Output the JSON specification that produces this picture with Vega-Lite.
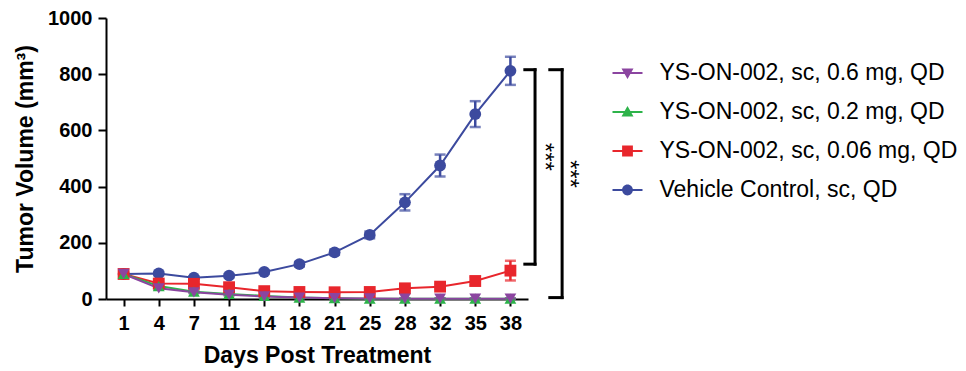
{
  "$schema": "https://vega.github.io/schema/vega-lite/v6.json",
  "autosize": {"type": "none"},
  "padding": {"left": 106, "top": 18, "right": 438, "bottom": 72},
  "width": 422,
  "height": 281,
  "config": {
    "font": "Liberation Sans",
    "view": {"stroke": null},
    "axis": {
      "domainColor": "black", "tickColor": "black", "labelColor": "black", "titleColor": "black",
      "domainWidth": 2, "tickWidth": 2, "grid": false,
      "labelFontWeight": "bold", "labelFontSize": 20,
      "titleFontWeight": "bold", "titleFontSize": 23
    }
  },
  "datasets": {
    "tumor": [
      {"day": 1, "series": "Vehicle Control, sc, QD", "v": 89, "err": 5},
      {"day": 4, "series": "Vehicle Control, sc, QD", "v": 91, "err": 6},
      {"day": 7, "series": "Vehicle Control, sc, QD", "v": 76, "err": 5},
      {"day": 11, "series": "Vehicle Control, sc, QD", "v": 83, "err": 6},
      {"day": 14, "series": "Vehicle Control, sc, QD", "v": 96, "err": 7},
      {"day": 18, "series": "Vehicle Control, sc, QD", "v": 124, "err": 8},
      {"day": 21, "series": "Vehicle Control, sc, QD", "v": 166, "err": 9},
      {"day": 25, "series": "Vehicle Control, sc, QD", "v": 228, "err": 12},
      {"day": 28, "series": "Vehicle Control, sc, QD", "v": 344, "err": 29},
      {"day": 32, "series": "Vehicle Control, sc, QD", "v": 475, "err": 39},
      {"day": 35, "series": "Vehicle Control, sc, QD", "v": 658, "err": 46},
      {"day": 38, "series": "Vehicle Control, sc, QD", "v": 812, "err": 50},
      {"day": 1, "series": "YS-ON-002, sc, 0.06 mg, QD", "v": 89, "err": 4},
      {"day": 4, "series": "YS-ON-002, sc, 0.06 mg, QD", "v": 55, "err": 5},
      {"day": 7, "series": "YS-ON-002, sc, 0.06 mg, QD", "v": 54, "err": 5},
      {"day": 11, "series": "YS-ON-002, sc, 0.06 mg, QD", "v": 42, "err": 5},
      {"day": 14, "series": "YS-ON-002, sc, 0.06 mg, QD", "v": 28, "err": 4},
      {"day": 18, "series": "YS-ON-002, sc, 0.06 mg, QD", "v": 25, "err": 4},
      {"day": 21, "series": "YS-ON-002, sc, 0.06 mg, QD", "v": 24, "err": 4},
      {"day": 25, "series": "YS-ON-002, sc, 0.06 mg, QD", "v": 25, "err": 5},
      {"day": 28, "series": "YS-ON-002, sc, 0.06 mg, QD", "v": 38, "err": 7},
      {"day": 32, "series": "YS-ON-002, sc, 0.06 mg, QD", "v": 44, "err": 8},
      {"day": 35, "series": "YS-ON-002, sc, 0.06 mg, QD", "v": 64, "err": 15},
      {"day": 38, "series": "YS-ON-002, sc, 0.06 mg, QD", "v": 101, "err": 35},
      {"day": 1, "series": "YS-ON-002, sc, 0.2 mg, QD", "v": 89, "err": 4},
      {"day": 4, "series": "YS-ON-002, sc, 0.2 mg, QD", "v": 46, "err": 4},
      {"day": 7, "series": "YS-ON-002, sc, 0.2 mg, QD", "v": 26, "err": 3},
      {"day": 11, "series": "YS-ON-002, sc, 0.2 mg, QD", "v": 18, "err": 3},
      {"day": 14, "series": "YS-ON-002, sc, 0.2 mg, QD", "v": 11, "err": 2},
      {"day": 18, "series": "YS-ON-002, sc, 0.2 mg, QD", "v": 5, "err": 2},
      {"day": 21, "series": "YS-ON-002, sc, 0.2 mg, QD", "v": 3, "err": 1},
      {"day": 25, "series": "YS-ON-002, sc, 0.2 mg, QD", "v": 1, "err": 1},
      {"day": 28, "series": "YS-ON-002, sc, 0.2 mg, QD", "v": 1, "err": 0},
      {"day": 32, "series": "YS-ON-002, sc, 0.2 mg, QD", "v": 1, "err": 0},
      {"day": 35, "series": "YS-ON-002, sc, 0.2 mg, QD", "v": 1, "err": 0},
      {"day": 38, "series": "YS-ON-002, sc, 0.2 mg, QD", "v": 1, "err": 0},
      {"day": 1, "series": "YS-ON-002, sc, 0.6 mg, QD", "v": 89, "err": 4},
      {"day": 4, "series": "YS-ON-002, sc, 0.6 mg, QD", "v": 38, "err": 4},
      {"day": 7, "series": "YS-ON-002, sc, 0.6 mg, QD", "v": 24, "err": 3},
      {"day": 11, "series": "YS-ON-002, sc, 0.6 mg, QD", "v": 15, "err": 3},
      {"day": 14, "series": "YS-ON-002, sc, 0.6 mg, QD", "v": 9, "err": 2},
      {"day": 18, "series": "YS-ON-002, sc, 0.6 mg, QD", "v": 5, "err": 2},
      {"day": 21, "series": "YS-ON-002, sc, 0.6 mg, QD", "v": 3, "err": 1},
      {"day": 25, "series": "YS-ON-002, sc, 0.6 mg, QD", "v": 2, "err": 1},
      {"day": 28, "series": "YS-ON-002, sc, 0.6 mg, QD", "v": 1, "err": 0},
      {"day": 32, "series": "YS-ON-002, sc, 0.6 mg, QD", "v": 1, "err": 0},
      {"day": 35, "series": "YS-ON-002, sc, 0.6 mg, QD", "v": 1, "err": 0},
      {"day": 38, "series": "YS-ON-002, sc, 0.6 mg, QD", "v": 1, "err": 0}
    ],
    "brackets": [
      {"a": 11.91, "a2": 12.2, "b": 816, "b2": 816},
      {"a": 12.2, "a2": 12.2, "b": 816, "b2": 124},
      {"a": 11.91, "a2": 12.2, "b": 124, "b2": 124},
      {"a": 12.62, "a2": 12.97, "b": 816, "b2": 816},
      {"a": 12.97, "a2": 12.97, "b": 816, "b2": 5},
      {"a": 12.62, "a2": 12.97, "b": 5, "b2": 5}
    ],
    "stars": [
      {"a": 12.45, "b": 506, "t": "***"},
      {"a": 13.16, "b": 445, "t": "***"}
    ]
  },
  "layer": [
    {
      "data": {"name": "tumor"},
      "encoding": {
        "x": {"field": "day", "type": "ordinal", "scale": {"type": "point", "padding": 0.5},
              "axis": {"title": "Days Post Treatment", "labelAngle": 0, "tickSize": 7, "labelPadding": 7, "titlePadding": 11}},
        "y": {"field": "v", "type": "quantitative", "scale": {"domain": [0, 1000]},
              "axis": {"title": "Tumor Volume (mm³)", "values": [0, 200, 400, 600, 800, 1000], "format": "d", "tickSize": 8, "labelPadding": 6, "titlePadding": 10}}
      },
      "layer": [
        {
          "mark": {"type": "line", "strokeWidth": 2},
          "encoding": {
            "color": {"field": "series", "type": "nominal",
                      "scale": {"domain": ["YS-ON-002, sc, 0.6 mg, QD", "YS-ON-002, sc, 0.2 mg, QD", "YS-ON-002, sc, 0.06 mg, QD", "Vehicle Control, sc, QD"],
                                "range": ["#8B45A0", "#2DB34A", "#E8262C", "#3C4A9E"]},
                      "legend": null}
          }
        },
        {
          "mark": {"type": "errorbar", "ticks": {"thickness": 2.5}, "rule": {"strokeWidth": 2.5}, "size": 11, "thickness": 2.5},
          "encoding": {
            "yError": {"field": "err"},
            "color": {"field": "series", "type": "nominal",
                      "scale": {"domain": ["YS-ON-002, sc, 0.6 mg, QD", "YS-ON-002, sc, 0.2 mg, QD", "YS-ON-002, sc, 0.06 mg, QD", "Vehicle Control, sc, QD"],
                                "range": ["#8B45A0", "#2DB34A", "#E8262C", "#3C4A9E"]},
                      "legend": null}
          }
        },
        {
          "mark": {"type": "point", "filled": true, "size": 140, "opacity": 1},
          "encoding": {
            "color": {"field": "series", "type": "nominal",
                      "scale": {"domain": ["YS-ON-002, sc, 0.6 mg, QD", "YS-ON-002, sc, 0.2 mg, QD", "YS-ON-002, sc, 0.06 mg, QD", "Vehicle Control, sc, QD"],
                                "range": ["#8B45A0", "#2DB34A", "#E8262C", "#3C4A9E"]},
                      "legend": null},
            "shape": {"field": "series", "type": "nominal",
                      "scale": {"domain": ["YS-ON-002, sc, 0.6 mg, QD", "YS-ON-002, sc, 0.2 mg, QD", "YS-ON-002, sc, 0.06 mg, QD", "Vehicle Control, sc, QD"],
                                "range": ["triangle-down", "triangle-up", "square", "circle"]},
                      "legend": null}
          }
        },
        {
          "mark": {"type": "point", "filled": true, "opacity": 0},
          "encoding": {
            "color": {"field": "series", "type": "nominal",
                      "scale": {"domain": ["YS-ON-002, sc, 0.6 mg, QD", "YS-ON-002, sc, 0.2 mg, QD", "YS-ON-002, sc, 0.06 mg, QD", "Vehicle Control, sc, QD"],
                                "range": ["#8B45A0", "#2DB34A", "#E8262C", "#3C4A9E"]},
                      "legend": {"title": null, "orient": "none", "legendX": 506.5, "legendY": 40, "symbolSize": 900, "labelFontSize": 23, "labelFontWeight": "normal", "labelColor": "black", "labelOffset": 17, "rowPadding": 12, "padding": 0, "symbolOpacity": 1, "symbolStrokeWidth": 0, "labelLimit": 400}},
            "shape": {"field": "series", "type": "nominal",
                      "scale": {"domain": ["YS-ON-002, sc, 0.6 mg, QD", "YS-ON-002, sc, 0.2 mg, QD", "YS-ON-002, sc, 0.06 mg, QD", "Vehicle Control, sc, QD"],
                                "range": [
                                  "M-1,-0.067H1V0.067H-1Z M-0.4,-0.3H0.4L0,0.4Z",
                                  "M-1,-0.067H1V0.067H-1Z M0.4,0.3H-0.4L0,-0.4Z",
                                  "M-1,-0.067H1V0.067H-1Z M-0.36,-0.36H0.36V0.36H-0.36Z",
                                  "M-1,-0.067H1V0.067H-1Z M-0.36,0A0.36,0.36 0 1,1 0.36,0A0.36,0.36 0 1,1 -0.36,0Z"
                                ]},
                      "legend": {"title": null, "orient": "none", "legendX": 506.5, "legendY": 40, "symbolSize": 900, "labelFontSize": 23, "labelFontWeight": "normal", "labelColor": "black", "labelOffset": 17, "rowPadding": 12, "padding": 0, "symbolOpacity": 1, "symbolStrokeWidth": 0, "labelLimit": 400}}
          }
        }
      ],
      "resolve": {"scale": {"color": "independent", "shape": "independent"}}
    },
    {
      "layer": [
        {
          "data": {"name": "brackets"},
          "mark": {"type": "rule", "strokeWidth": 3, "strokeCap": "square", "color": "black"},
          "encoding": {
            "x": {"field": "a", "type": "quantitative", "scale": {"domain": [0, 12], "nice": false, "zero": false}, "axis": null},
            "x2": {"field": "a2"},
            "y": {"field": "b", "type": "quantitative", "scale": {"domain": [0, 1000], "nice": false}, "axis": null},
            "y2": {"field": "b2"}
          }
        },
        {
          "data": {"name": "stars"},
          "mark": {"type": "text", "angle": 90, "fontSize": 24, "align": "center", "baseline": "middle", "color": "black"},
          "encoding": {
            "x": {"field": "a", "type": "quantitative", "scale": {"domain": [0, 12], "nice": false, "zero": false}, "axis": null},
            "y": {"field": "b", "type": "quantitative", "scale": {"domain": [0, 1000], "nice": false}, "axis": null},
            "text": {"field": "t"}
          }
        }
      ]
    }
  ],
  "resolve": {"scale": {"x": "independent", "y": "independent"}}
}
